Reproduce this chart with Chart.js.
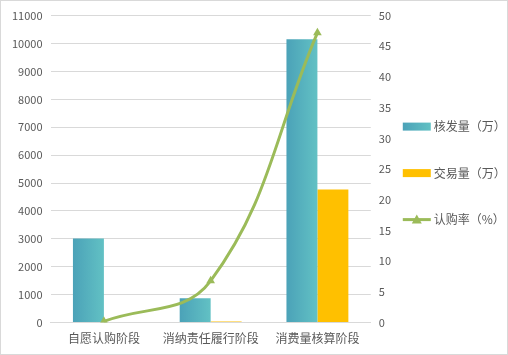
<!DOCTYPE html>
<html>
<head>
<meta charset="utf-8">
<script src="https://cdn.jsdelivr.net/npm/chart.js@4"></script>
<style>
  html, body { margin: 0; padding: 0; background: #fff; }
  #box { position: absolute; left: 0; top: 0; width: 508px; height: 355px; border: 1px solid #d9d9d9; box-sizing: border-box; }
</style>
</head>
<body>
<div id="box"><canvas id="myChart"></canvas></div>
<script>
let categories = ["自愿认购阶段", "消纳责任履行阶段", "消费量核算阶段"];
let issued = [3010, 870, 10150];   // 核发量（万）
let traded = [0, 40, 4770];        // 交易量（万）
let rate = [0.2, 6.8, 47.2];       // 认购率（%）
let leftTicks = [0, 11000, 1000];
let rightTicks = [0, 50, 5];

const teal1 = "#4BA2B8", teal2 = "#62C1C4", gold = "#FFC000", green = "#9BBB59", txt = "#595959";
const fontFam = "'Noto Sans CJK SC', 'Noto Sans', sans-serif";

function tealFill(c) {
  let chart = c.chart, xs = chart.scales.x;
  if (!chart.chartArea || !xs || c.dataIndex == null) return "#56B2BE";
  let cx = xs.getPixelForValue(c.dataIndex);
  let w = xs.width / categories.length * 0.58 / 2;
  let g = chart.ctx.createLinearGradient(cx - w, 0, cx, 0);
  g.addColorStop(0, teal1);
  g.addColorStop(1, teal2);
  return g;
}

// legend drawn beside the right axis (built-in one gets squeezed by the two y axes)
const sideLegend = {
  id: "sideLegend",
  afterDraw(chart) {
    let ctx = chart.ctx, area = chart.chartArea;
    let x0 = area.right + 32;
    let mid = (area.top + area.bottom) / 2 + 4;
    let gap = 46.5;
    ctx.save();
    ctx.font = "12px " + fontFam;
    ctx.textBaseline = "middle";
    chart.data.datasets.forEach((ds, i) => {
      let y = mid + (i - 1) * gap;
      if (ds.type === "line") {
        ctx.strokeStyle = green; ctx.lineWidth = 3;
        ctx.beginPath(); ctx.moveTo(x0, y); ctx.lineTo(x0 + 28, y); ctx.stroke();
        ctx.fillStyle = green;
        ctx.beginPath(); ctx.moveTo(x0 + 14, y - 5); ctx.lineTo(x0 + 19, y + 4); ctx.lineTo(x0 + 9, y + 4); ctx.closePath(); ctx.fill();
      } else if (i === 0) {
        let g = ctx.createLinearGradient(x0, 0, x0 + 28, 0);
        g.addColorStop(0, teal1); g.addColorStop(1, teal2);
        ctx.fillStyle = g; ctx.fillRect(x0, y - 4, 28, 8);
      } else {
        ctx.fillStyle = ds.backgroundColor; ctx.fillRect(x0, y - 4, 28, 8);
      }
      ctx.fillStyle = txt;
      ctx.fillText(ds.label, x0 + 31, y);
    });
    ctx.restore();
  }
};

Chart.defaults.font.family = fontFam;
Chart.defaults.font.size = 12;
Chart.defaults.color = txt;

new Chart("myChart", {
  data: {
    labels: categories,
    datasets: [{
      type: "bar",
      label: "核发量（万）",
      data: issued,
      backgroundColor: tealFill,
      yAxisID: "y",
      order: 1,
      barPercentage: 1,
      categoryPercentage: 0.58
    }, {
      type: "bar",
      label: "交易量（万）",
      data: traded,
      backgroundColor: gold,
      yAxisID: "y",
      order: 1,
      barPercentage: 1,
      categoryPercentage: 0.58
    }, {
      type: "line",
      label: "认购率（%）",
      data: rate,
      borderColor: green,
      backgroundColor: green,
      borderWidth: 3,
      tension: 0.4,
      pointStyle: "triangle",
      pointRadius: 5,
      pointBorderWidth: 0,
      yAxisID: "y1",
      order: 0
    }]
  },
  options: {
    responsive: true,
    maintainAspectRatio: false,
    animation: false,
    layout: { padding: { top: 8, left: 3, right: 108, bottom: 7 } },
    scales: {
      x: {
        grid: { display: false },
        border: { display: true, color: "#d9d9d9" },
        ticks: { color: txt, font: { size: 12 }, padding: 1 }
      },
      y: {
        position: "left",
        min: leftTicks[0], max: leftTicks[1],
        ticks: { stepSize: leftTicks[2], color: txt, font: { size: 11 }, padding: 8, callback: v => String(v) },
        grid: { color: "#d9d9d9", drawTicks: false },
        border: { display: false }
      },
      y1: {
        position: "right",
        min: rightTicks[0], max: rightTicks[1],
        ticks: { stepSize: rightTicks[2], color: txt, font: { size: 11 }, padding: 8, callback: v => String(v) },
        grid: { drawOnChartArea: false, drawTicks: false },
        border: { display: false }
      }
    },
    plugins: {
      tooltip: { enabled: false },
      legend: { display: false }
    }
  },
  plugins: [sideLegend]
});
</script>
</body>
</html>
